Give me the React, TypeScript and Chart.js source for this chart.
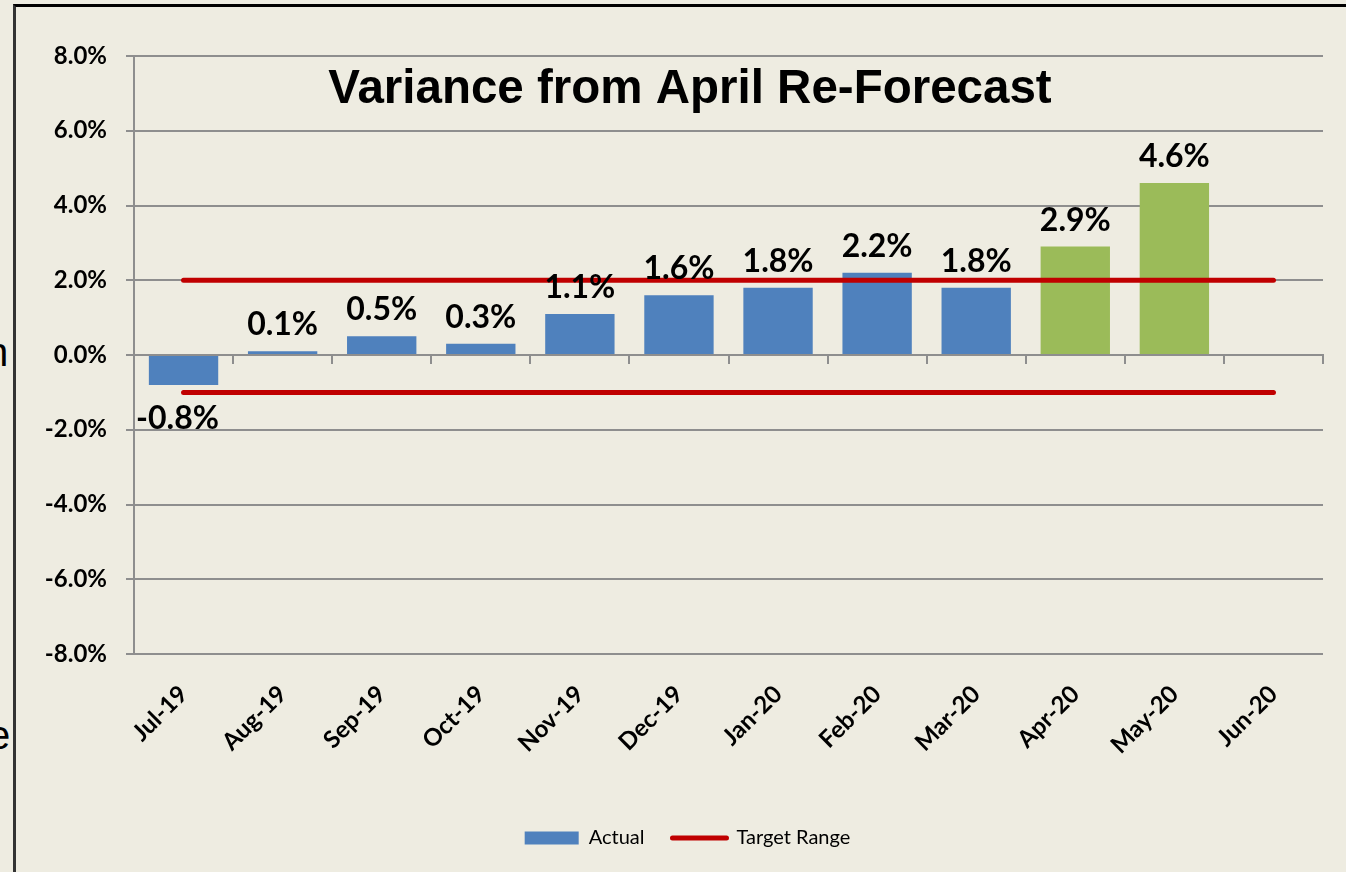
import React, { useEffect, useRef } from "react";
import { Chart, registerables } from "chart.js";

Chart.register(...registerables);

const chartTitle = "Variance from April Re-Forecast";
const categories = ["Jul-19", "Aug-19", "Sep-19", "Oct-19", "Nov-19", "Dec-19", "Jan-20", "Feb-20", "Mar-20", "Apr-20", "May-20", "Jun-20"];
const actualValues: (number | null)[] = [-0.8, 0.1, 0.5, 0.3, 1.1, 1.6, 1.8, 2.2, 1.8, 2.9, 4.6, null];
const targetUpper = [2, 2, 2, 2, 2, 2, 2, 2, 2, 2, 2, 2];
const targetLower = [-1, -1, -1, -1, -1, -1, -1, -1, -1, -1, -1, -1];
const forecastMonths = ["Apr-20", "May-20"];
const yTicks = [-8, -6, -4, -2, 0, 2, 4, 6, 8];

const BG = "#EEECE1";
const BLUE = "#4F81BD";
const GREEN = "#9BBB59";
const RED = "#C00000";
const GRID = "#8E8E8E";

const barColors = categories.map((c) => (forecastMonths.includes(c) ? GREEN : BLUE));

const fmt = (v: number) => v.toFixed(1) + "%";

const labelPlugin = {
  id: "barLabels",
  afterDatasetsDraw(chart: any) {
    const ctx = chart.ctx;
    const meta = chart.getDatasetMeta(0);
    ctx.save();
    ctx.font = "bold 32px Lato";
    ctx.fillStyle = "#000";
    ctx.textAlign = "center";
    ctx.textBaseline = "alphabetic";
    meta.data.forEach((bar: any, i: number) => {
      const v = actualValues[i];
      if (v === null || v === undefined) return;
      const { x, y } = bar.getProps(["x", "y"], true);
      if (v >= 0) {
        ctx.fillText(fmt(v), x, y - 16);
      } else {
        ctx.fillText(fmt(v), x - 6, y + 44);
      }
    });
    ctx.restore();
  },
};

const titlePlugin = {
  id: "overlayTitle",
  afterDraw(chart: any) {
    const ctx = chart.ctx;
    ctx.save();
    ctx.font = 'bold 47.5px "Liberation Sans"';
    ctx.fillStyle = "#000";
    ctx.textAlign = "center";
    ctx.textBaseline = "alphabetic";
    ctx.fillText(chartTitle, 690, 103);
    ctx.restore();
  },
};

// centre the legend under the title rather than the whole canvas
const legendShiftPlugin = {
  id: "legendShift",
  afterLayout(chart: any) {
    const l = chart.legend;
    if (l) {
      l.left += 26;
      l.right += 26;
    }
  },
};

export default function App() {
  const ref = useRef<HTMLCanvasElement | null>(null);

  useEffect(() => {
    document.body.style.margin = "0";
    document.body.style.background = BG;
    const canvas = ref.current;
    if (!canvas) return;
    const chart = new Chart(canvas, {
      type: "bar",
      data: {
        labels: categories,
        datasets: [
          {
            type: "bar",
            label: "Actual",
            data: actualValues,
            backgroundColor: barColors,
            borderWidth: 0,
            barPercentage: 1,
            categoryPercentage: 0.7,
            order: 1,
          } as any,
          {
            type: "line",
            label: "Target Range",
            data: targetUpper,
            borderColor: RED,
            backgroundColor: RED,
            borderWidth: 5,
            borderCapStyle: "round",
            pointRadius: 0,
            fill: false,
            order: 0,
          } as any,
          {
            type: "line",
            label: "Target Range Low",
            data: targetLower,
            borderColor: RED,
            backgroundColor: RED,
            borderWidth: 5,
            borderCapStyle: "round",
            pointRadius: 0,
            fill: false,
            order: 0,
          } as any,
        ],
      },
      options: {
        responsive: false,
        animation: false,
        layout: { padding: { left: 0, right: 23, top: 56, bottom: 14 } },
        plugins: {
          title: { display: false },
          tooltip: { enabled: false },
          legend: {
            position: "bottom",
            labels: {
              usePointStyle: true,
              pointStyleWidth: 54,
              boxHeight: 13,
              padding: 28,
              color: "#000",
              font: { family: "Lato", size: 20 },
              filter: (item: any) => item.datasetIndex !== 2,
              sort: (a: any, b: any) => a.datasetIndex - b.datasetIndex,
              generateLabels: (chart: any) => {
                const base = (Chart as any).defaults.plugins.legend.labels.generateLabels(chart);
                return base.map((it: any) => {
                  if (it.datasetIndex === 0) {
                    return { ...it, pointStyle: "rect", fillStyle: BLUE, strokeStyle: BLUE, lineWidth: 0 };
                  }
                  return { ...it, pointStyle: "line", strokeStyle: RED, lineWidth: 5, lineCap: "round" };
                });
              },
            },
          },
        },
        scales: {
          x: {
            type: "category",
            grid: { display: false, drawTicks: false },
            border: { display: false },
            ticks: {
              autoSkip: false,
              maxRotation: 45,
              minRotation: 45,
              color: "#000",
              padding: 26,
              font: { family: "Lato", size: 24, weight: "bold" },
            },
            afterFit: (scale: any) => {
              scale.height = 146;
            },
          },
          x2: {
            type: "category",
            position: { y: 0 } as any,
            offset: true,
            grid: { display: true, drawOnChartArea: false, drawTicks: true, tickLength: 8, color: GRID, lineWidth: 2 },
            border: { display: true, color: GRID, width: 2 },
            ticks: { display: false },
          },
          y: {
            min: -8,
            max: 8,
            afterBuildTicks: (scale: any) => {
              scale.ticks = yTicks.map((v) => ({ value: v }));
            },
            grid: { color: GRID, lineWidth: 2, tickLength: 8 },
            border: { display: true, color: GRID, width: 2 },
            ticks: {
              color: "#000",
              padding: 19,
              font: { family: "Lato", size: 24, weight: "bold" },
              callback: (v: any) => fmt(Number(v)),
            },
            afterFit: (scale: any) => {
              scale.width = 134;
            },
          },
        },
      } as any,
      plugins: [labelPlugin, titlePlugin, legendShiftPlugin],
    });
    return () => chart.destroy();
  }, []);

  return (
    <div style={{ position: "fixed", left: 0, top: 0, width: 1346, height: 872, background: BG, overflow: "hidden" }}>
      <span style={{ position: "absolute", left: -14, top: 369 - 37, fontFamily: '"Liberation Sans"', fontSize: 40, lineHeight: "40px", color: "#000" }}>n</span>
      <span style={{ position: "absolute", left: -12, top: 752 - 37, fontFamily: '"Liberation Sans"', fontSize: 40, lineHeight: "40px", color: "#000" }}>e</span>
      <div style={{ position: "absolute", left: 13, top: 4, width: 1400, height: 900, borderLeft: "3px solid #333", borderTop: "3px solid #000" }} />
      <canvas ref={ref} width={1346} height={872} style={{ position: "absolute", left: 0, top: 0, width: 1346, height: 872 }} />
    </div>
  );
}
